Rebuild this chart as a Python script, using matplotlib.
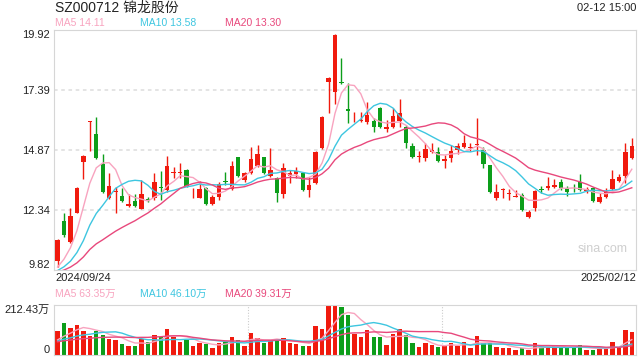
import numpy as np
import pandas as pd
import matplotlib
matplotlib.use('Agg')
import matplotlib.pyplot as plt

plt.rcParams['font.family'] = ['Liberation Sans', 'Noto Sans CJK SC', 'DejaVu Sans']

# daily K-line, 2024/09/24 .. 2025/02/12
opens = [10.20, 11.88, 11.00, 12.22, 14.36, 16.05, 15.54, 14.28, 12.85, 13.12,
         12.93, 12.51, 12.72, 12.39, 12.79, 12.85, 13.33, 13.19, 13.92, 13.92,
         14.03, 13.04, 12.85, 13.27, 12.60, 12.89, 13.58, 13.23, 14.57, 13.61,
         13.90, 14.20, 14.57, 13.78, 13.69, 13.02, 13.78, 13.86, 13.90, 13.19,
         13.48, 14.95, 17.73, 17.31, 17.73, 16.60, 16.07, 16.11, 16.05, 16.09,
         16.64, 15.75, 15.84, 16.09, 15.84, 15.04, 14.57, 14.53, 14.79, 14.79,
         14.41, 14.53, 14.87, 15.00, 14.97, 15.10, 14.87, 14.24, 12.85, 13.17,
         13.00, 12.91, 12.98, 12.05, 12.43, 13.21, 13.27, 13.31, 13.52, 13.27,
         13.29, 13.52, 13.14, 13.27, 12.68, 12.89, 13.23, 13.56, 13.78, 14.53]
highs = [11.12, 12.22, 12.43, 13.31, 14.66, 16.09, 16.26, 14.70, 13.90, 13.31,
         13.27, 13.02, 13.02, 13.61, 12.89, 13.90, 13.99, 14.62, 14.15, 14.32,
         14.07, 13.27, 13.56, 13.31, 12.98, 13.52, 13.94, 14.41, 14.57, 13.94,
         15.00, 15.08, 14.57, 14.95, 13.73, 14.32, 14.03, 14.15, 13.94, 13.73,
         14.83, 16.30, 17.94, 19.75, 18.74, 17.69, 16.47, 16.47, 16.89, 16.22,
         16.68, 16.13, 16.64, 17.02, 15.92, 15.16, 14.83, 15.16, 15.16, 15.00,
         14.66, 15.08, 15.16, 15.50, 15.16, 16.22, 15.00, 14.24, 13.44, 13.27,
         13.23, 13.19, 13.06, 12.34, 13.19, 13.35, 13.73, 13.65, 13.65, 13.35,
         13.44, 13.86, 13.31, 13.31, 13.06, 13.27, 14.03, 13.86, 15.16, 15.37]
lows = [9.94, 11.21, 10.96, 12.22, 13.65, 14.83, 14.49, 13.06, 12.81, 12.22,
        12.68, 12.47, 12.47, 12.39, 12.68, 12.77, 12.77, 13.10, 13.69, 13.69,
        13.31, 12.85, 12.85, 12.56, 12.56, 12.77, 13.40, 13.19, 13.73, 13.52,
        13.86, 14.15, 13.86, 13.73, 12.68, 12.85, 13.48, 13.69, 13.14, 12.89,
        13.44, 14.91, 16.43, 16.81, 17.65, 16.01, 16.05, 16.05, 15.96, 15.63,
        15.80, 15.63, 15.80, 15.84, 14.95, 14.53, 14.36, 14.41, 14.74, 14.36,
        14.11, 14.36, 14.70, 14.95, 14.83, 14.66, 14.11, 13.06, 12.77, 12.85,
        12.77, 12.89, 12.30, 12.01, 12.30, 13.06, 13.19, 13.27, 13.19, 12.93,
        13.10, 13.14, 13.06, 12.68, 12.64, 12.85, 13.19, 13.52, 13.48, 14.49]
closes = [11.08, 11.29, 12.09, 13.27, 14.62, 16.09, 14.53, 13.10, 13.35, 13.16,
          12.72, 12.60, 12.51, 13.02, 12.77, 13.52, 13.29, 14.20, 13.96, 13.96,
          13.35, 13.08, 13.23, 12.60, 12.89, 13.44, 13.54, 14.20, 13.78, 13.90,
          14.49, 14.70, 13.90, 14.03, 13.06, 14.11, 13.90, 13.99, 13.19, 13.40,
          14.79, 16.26, 17.90, 19.71, 17.69, 16.51, 16.11, 16.15, 16.34, 15.84,
          15.84, 15.84, 16.30, 16.43, 15.16, 14.57, 14.62, 14.91, 14.87, 14.41,
          14.49, 14.83, 15.04, 15.16, 15.00, 15.14, 14.28, 13.10, 13.10, 13.21,
          13.04, 12.95, 12.34, 12.26, 13.14, 13.17, 13.35, 13.40, 13.27, 13.10,
          13.25, 13.19, 13.23, 12.72, 12.89, 13.10, 13.65, 13.73, 14.79, 15.04]
# volume, 万手
volumes = [103.4, 136.0, 114.7, 127.5, 102.0, 82.1, 102.0, 85.0, 68.0, 63.7,
           46.7, 38.2, 38.2, 68.0, 55.2, 85.0, 76.5, 110.5, 77.9, 56.6,
           63.7, 38.2, 49.6, 46.7, 29.7, 49.6, 56.6, 76.5, 63.7, 38.2,
           93.5, 70.8, 51.0, 63.7, 60.9, 73.6, 49.6, 46.7, 38.2, 38.2,
           123.2, 110.5, 208.2, 212.4, 202.5, 169.9, 89.2, 77.9, 106.2, 77.9,
           76.5, 42.5, 89.2, 109.0, 85.0, 49.6, 32.6, 49.6, 41.1, 35.4,
           38.2, 52.4, 38.2, 55.2, 29.7, 80.7, 49.6, 49.6, 35.4, 31.2,
           29.7, 21.2, 31.2, 21.2, 49.6, 32.6, 32.6, 38.2, 35.4, 28.3,
           32.6, 41.1, 21.2, 21.2, 24.1, 32.6, 55.2, 32.6, 106.2, 99.1]

# days before the window, only used to warm up the moving averages
prior_closes = [9.55, 9.60, 9.72, 9.68, 9.75, 9.80, 9.70, 9.65, 9.58, 9.62,
                9.70, 9.74, 9.66, 9.60, 9.55, 9.62, 9.70, 9.68, 9.64]
prior_volumes = [48, 55, 52, 60, 52, 50, 58, 54, 51, 57,
                 50, 56, 53, 55, 52, 57, 50, 56, 54]

date_first = '2024/09/24'
date_last = '2025/02/12'
price_ticks = [9.82, 12.34, 14.87, 17.39, 19.92]
vol_top = 212.43
ma_text = ['MA5 14.11', 'MA10 13.58', 'MA20 13.30']
vol_ma_text = ['MA5 63.35万', 'MA10 46.10万', 'MA20 39.31万']

red = '#f01a0e'
green = '#0c9e1a'
ma_cols = ['#f8a3bf', '#3ec6e0', '#e8487c']
grey = '#d6d6d6'

opens = np.array(opens)
closes = np.array(closes)
highs = np.array(highs)
lows = np.array(lows)
n = len(closes)
x = np.arange(n)
cols = np.where(closes >= opens, red, green)

all_c = pd.Series(prior_closes + list(closes))
all_v = pd.Series(prior_volumes + volumes)
ma_p = [all_c.rolling(k).mean().values[-n:] for k in (5, 10, 20)]
ma_v = [all_v.rolling(k).mean().values[-n:] for k in (5, 10, 20)]

fig = plt.figure(figsize=(6.4, 3.6), dpi=100)
ax = fig.add_axes([54/640, 90/360, 582/640, 240/360])
axv = fig.add_axes([54/640, 5/360, 582/640, 50/360])
xlim = (-0.55, n - 0.35)

# price panel
for t in price_ticks[1:-1]:
    ax.axhline(t, color='#e2e2e2', lw=1.3, ls=(0, (2, 2)), zorder=0)
ax.vlines(x, lows, highs, colors=cols, lw=1, zorder=2)
ax.bar(x, np.maximum(np.abs(closes - opens), 0.04), bottom=np.minimum(opens, closes),
       width=0.68, color=cols, lw=0, zorder=3)
for m, c in zip(ma_p, ma_cols):
    ax.plot(x, m, color=c, lw=1, zorder=4)
ax.set_xlim(*xlim)
ax.set_ylim(price_ticks[0], price_ticks[-1])
ax.set_xticks([])
ax.set_yticks(price_ticks)
ax.set_yticklabels(['%.2f' % t for t in price_ticks])
ax.tick_params(axis='y', length=0, pad=3, labelsize=8, labelcolor='#222222')
labs = ax.get_yticklabels()
labs[0].set_verticalalignment('bottom')
labs[-1].set_verticalalignment('top')
for s in ax.spines.values():
    s.set_color(grey)

# volume panel
axv.bar(x, volumes, width=0.68, color=cols, lw=0, zorder=2)
for m, c in zip(ma_v, ma_cols):
    axv.plot(x, m, color=c, lw=1, zorder=3)
span = xlim[1] - xlim[0]
for f in (1/3, 2/3):
    axv.axvline(xlim[0] + span*f, color='#cccccc', lw=0.8, ls=(0, (1, 1.5)), zorder=0)
axv.set_xlim(*xlim)
axv.set_ylim(0, vol_top)
axv.set_xticks([])
axv.set_yticks([0, vol_top])
axv.set_yticklabels(['0', '%.2f万' % vol_top])
axv.tick_params(axis='y', length=0, pad=3, labelsize=8, labelcolor='#222222')
vl = axv.get_yticklabels()
vl[0].set_verticalalignment('bottom')
vl[1].set_verticalalignment('top')
for s in axv.spines.values():
    s.set_color(grey)

# texts
fig.text(55/640, 1 - 8/360, 'SZ000712 锦龙股份', fontsize=10, color='#222222', va='center')
fig.text(636/640, 1 - 8/360, '02-12 15:00', fontsize=8, color='#222222', va='center', ha='right')
for i, (t, c) in enumerate(zip(ma_text, ma_cols)):
    fig.text((55 + 85*i)/640, 1 - 23/360, t, fontsize=7.5, color=c, va='center')
for i, (t, c) in enumerate(zip(vol_ma_text, ma_cols)):
    fig.text((55 + 85*i)/640, 1 - 294/360, t, fontsize=7.5, color=c, va='center')
fig.text(55/640, 1 - 278/360, date_first, fontsize=8, color='#222222', va='center')
fig.text(636/640, 1 - 278/360, date_last, fontsize=8, color='#222222', va='center', ha='right')
fig.text(603/640, 1 - 249/360, 'sina.com', fontsize=9, color='#cfcfcf', va='center', ha='center')

fig.savefig('out.png', dpi=100)
